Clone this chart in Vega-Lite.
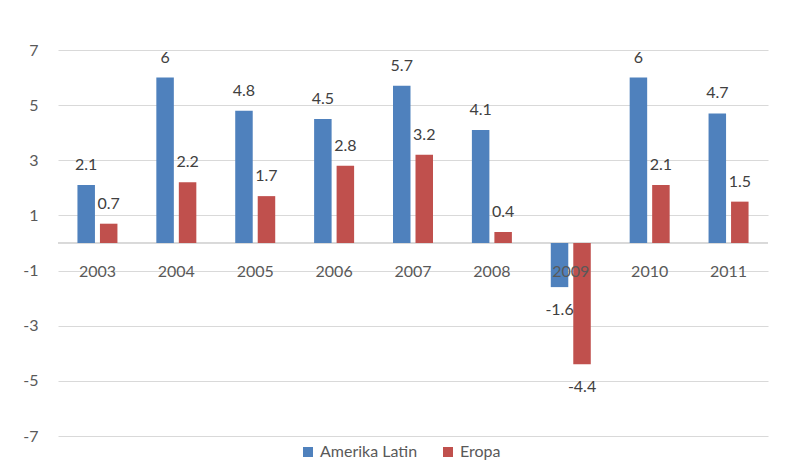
{
  "$schema": "https://vega.github.io/schema/vega-lite/v6.json",
  "width": 710,
  "height": 386,
  "autosize": {"type": "none"},
  "padding": {"left": 58, "top": 50, "right": 22, "bottom": 40},
  "background": "white",
  "config": {
    "font": "Lato",
    "view": {"stroke": null}
  },
  "data": {
    "values": [
      {"year": "2003", "series": "Amerika Latin", "value": 2.1},
      {"year": "2003", "series": "Eropa", "value": 0.7},
      {"year": "2004", "series": "Amerika Latin", "value": 6},
      {"year": "2004", "series": "Eropa", "value": 2.2},
      {"year": "2005", "series": "Amerika Latin", "value": 4.8},
      {"year": "2005", "series": "Eropa", "value": 1.7},
      {"year": "2006", "series": "Amerika Latin", "value": 4.5},
      {"year": "2006", "series": "Eropa", "value": 2.8},
      {"year": "2007", "series": "Amerika Latin", "value": 5.7},
      {"year": "2007", "series": "Eropa", "value": 3.2},
      {"year": "2008", "series": "Amerika Latin", "value": 4.1},
      {"year": "2008", "series": "Eropa", "value": 0.4},
      {"year": "2009", "series": "Amerika Latin", "value": -1.6},
      {"year": "2009", "series": "Eropa", "value": -4.4},
      {"year": "2010", "series": "Amerika Latin", "value": 6},
      {"year": "2010", "series": "Eropa", "value": 2.1},
      {"year": "2011", "series": "Amerika Latin", "value": 4.7},
      {"year": "2011", "series": "Eropa", "value": 1.5}
    ]
  },
  "encoding": {
    "x": {
      "field": "year",
      "type": "nominal",
      "scale": {"paddingInner": 0.493, "paddingOuter": 0.2465},
      "axis": null
    },
    "y": {
      "field": "value",
      "type": "quantitative",
      "scale": {"domain": [-7, 7], "nice": false, "zero": false},
      "axis": {
        "values": [-7, -5, -3, -1, 1, 3, 5, 7],
        "labelExpr": "'' + datum.value",
        "title": null,
        "domain": false,
        "ticks": false,
        "grid": true,
        "gridColor": "#D9D9D9",
        "gridWidth": 1,
        "labelFontSize": 16,
        "labelColor": "#595959",
        "labelPadding": 20,
        "labelFont": "Lato"
      }
    }
  },
  "layer": [
    {
      "mark": {"type": "rule", "color": "#D9D9D9", "strokeWidth": 1},
      "encoding": {"y": {"datum": 0}, "x": null}
    },
    {
      "mark": {"type": "bar"},
      "encoding": {
        "xOffset": {
          "field": "series",
          "type": "nominal",
          "scale": {"paddingInner": 0.222, "paddingOuter": 0}
        },
        "y2": {"datum": 0},
        "color": {
          "field": "series",
          "type": "nominal",
          "scale": {"domain": ["Amerika Latin", "Eropa"], "range": ["#4F81BD", "#C0504D"]},
          "legend": {
            "title": null,
            "orient": "none",
            "legendX": 242,
            "legendY": 394,
            "direction": "horizontal",
            "symbolType": "square",
            "symbolSize": 100,
            "symbolStrokeWidth": 0,
            "labelFontSize": 16,
            "labelColor": "#595959",
            "labelFont": "Lato",
            "columnPadding": 22,
            "labelOffset": 4
          }
        }
      }
    },
    {
      "transform": [{"filter": "datum.value >= 0"}],
      "mark": {"type": "text", "fontSize": 16, "color": "#404040", "baseline": "middle", "dy": -20},
      "encoding": {
        "xOffset": {"field": "series", "type": "nominal", "scale": {"paddingInner": 0.222, "paddingOuter": 0}},
        "text": {"field": "value", "type": "nominal"}
      }
    },
    {
      "transform": [{"filter": "datum.value < 0"}],
      "mark": {"type": "text", "fontSize": 16, "color": "#404040", "baseline": "middle", "dy": 23},
      "encoding": {
        "xOffset": {"field": "series", "type": "nominal", "scale": {"paddingInner": 0.222, "paddingOuter": 0}},
        "text": {"field": "value", "type": "nominal"}
      }
    },
    {
      "transform": [{"filter": "datum.series === 'Amerika Latin'"}],
      "mark": {"type": "text", "fontSize": 16, "color": "#595959", "baseline": "middle", "dy": 29},
      "encoding": {
        "y": {"datum": 0},
        "text": {"field": "year", "type": "nominal"}
      }
    }
  ]
}
